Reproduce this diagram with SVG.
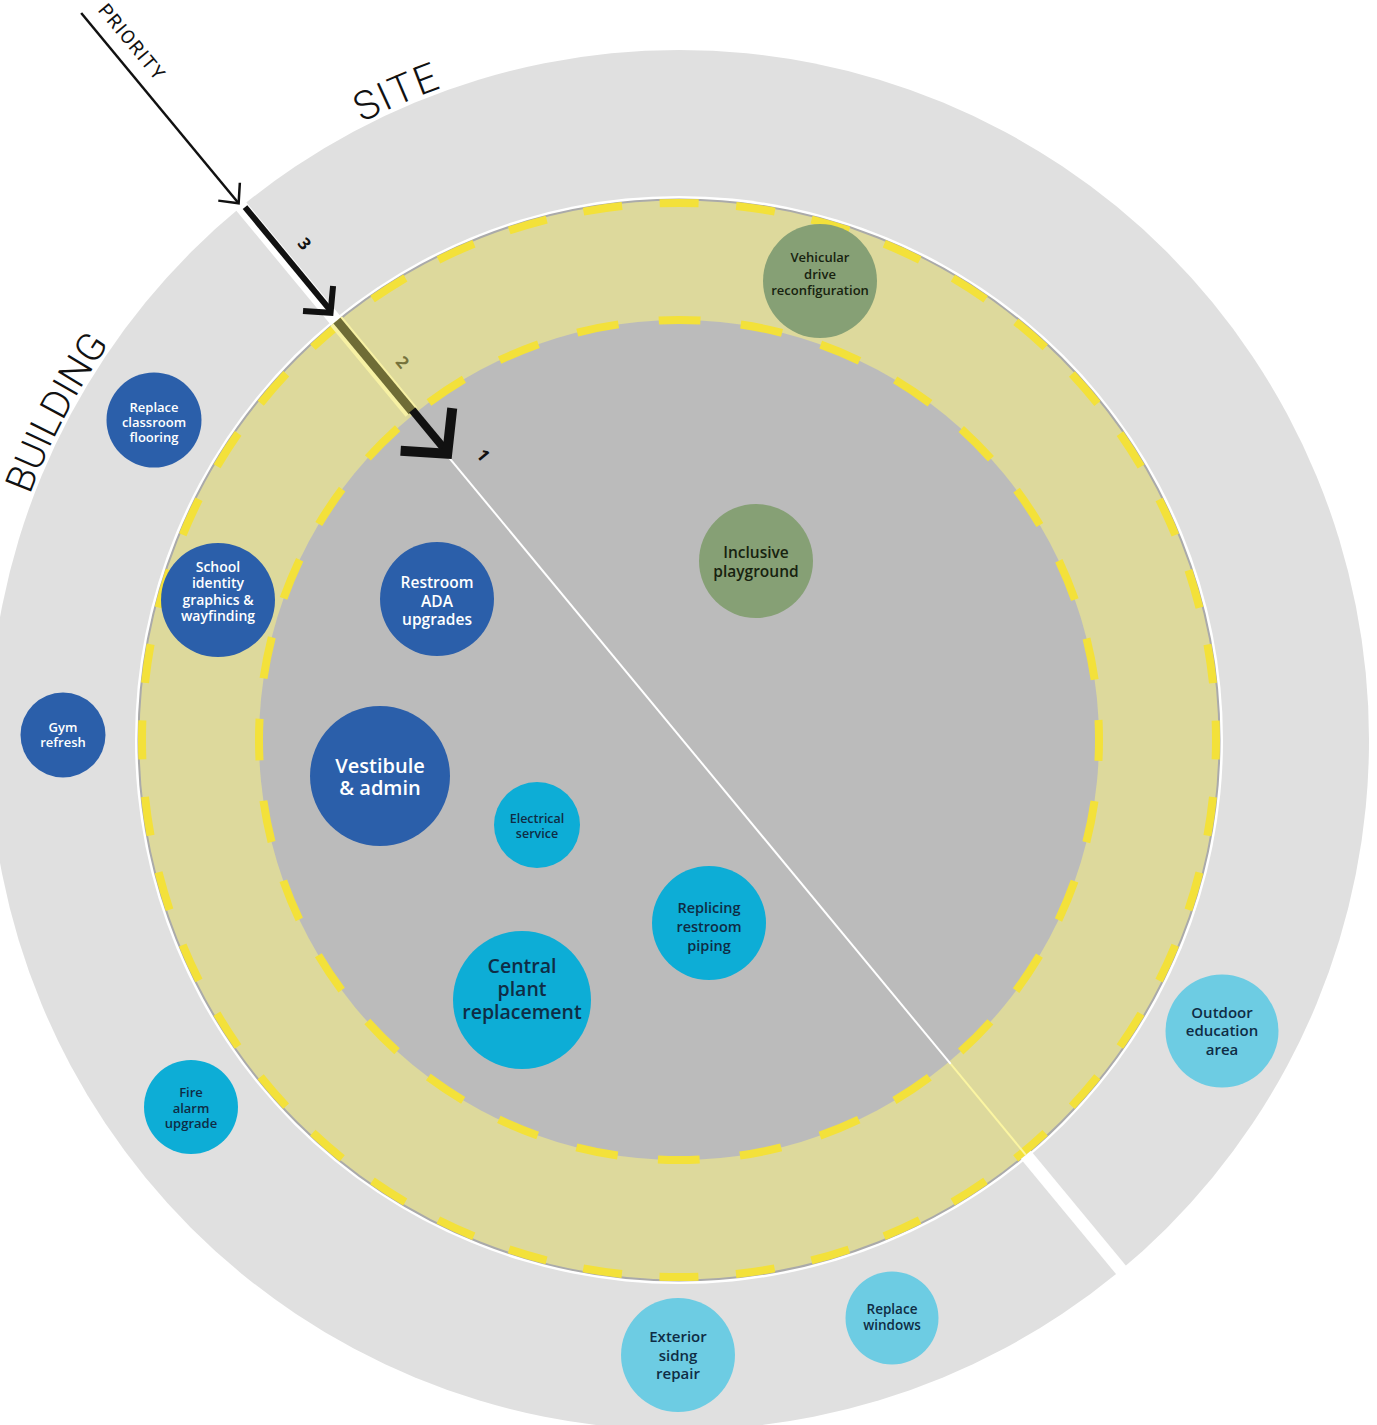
<svg xmlns="http://www.w3.org/2000/svg" width="1377" height="1425" viewBox="0 0 1377 1425">
<style>
.dk{fill:#2b5faa}
.cy{fill:#0dadd6}
.lc{fill:#6dcce3}
.gr{fill:#86a075}
.t{font-family:'Open Sans','Liberation Sans',sans-serif;font-weight:600;text-anchor:middle}
.tw{fill:#ffffff}
.td{fill:#0f2c45}
.tg{fill:#17220f}
.ring{font-family:Roboto,'Liberation Sans',sans-serif;font-weight:300;fill:#111111;text-anchor:middle}
.num{font-family:'Open Sans','Liberation Sans',sans-serif;font-weight:700;font-size:17px;text-anchor:middle}
</style>
<defs>
<path id="arc" d="M -15 740 A 694 694 0 0 1 1373 740"/>
</defs>
<rect x="0" y="0" width="1377" height="1425" fill="#ffffff"/>
<g id="rings">
<circle cx="679" cy="740" r="690" fill="#e0e0e0"/>
<circle cx="679" cy="740" r="544" fill="#ffffff"/>
<circle cx="679" cy="740" r="540.5" fill="#ddd99c" stroke="#aaaaaa" stroke-width="2"/>
<circle cx="679" cy="740" r="420" fill="#bbbbbb"/>
<circle cx="679" cy="740" r="537" fill="none" stroke="#f3e13a" stroke-width="8" stroke-dasharray="39 37.68" stroke-dashoffset="19.5"/>
<circle cx="679" cy="740" r="420" fill="none" stroke="#f3e13a" stroke-width="8" stroke-dasharray="42 40.47" stroke-dashoffset="21"/>
</g>
<g id="ring-labels">
<text class="ring" font-size="39"><textPath href="#arc" startOffset="336">BUILDING</textPath></text>
<text class="ring" font-size="40" letter-spacing="2"><textPath href="#arc" startOffset="805">SITE</textPath></text>
</g>
<g id="connectors" transform="translate(681,738) rotate(50.4)">
<line x1="541" y1="0" x2="702" y2="0" stroke="#ffffff" stroke-width="13"/>
<line x1="423" y1="0" x2="541" y2="0" stroke="#fbf5a2" stroke-width="2"/>
<line x1="-425" y1="0" x2="423" y2="0" stroke="#ffffff" stroke-width="2"/>
<line x1="-702" y1="0" x2="-541" y2="0" stroke="#ffffff" stroke-width="13"/>
<line x1="-541" y1="0" x2="-423" y2="0" stroke="#f7f1a4" stroke-width="15"/>
<line x1="-541" y1="-1" x2="-423" y2="-1" stroke="#6f6c36" stroke-width="9"/>
<line x1="-941" y1="0" x2="-695" y2="0" stroke="#111111" stroke-width="2.5"/>
<polyline points="-709,-14 -694,0 -709,14" fill="none" stroke="#111111" stroke-width="2.5"/>
<line x1="-687" y1="-2.5" x2="-553" y2="-2.5" stroke="#111111" stroke-width="6"/>
<polyline points="-570,-20 -551,-1 -570,19" fill="none" stroke="#111111" stroke-width="6"/>
<line x1="-424" y1="-2" x2="-370" y2="-2" stroke="#111111" stroke-width="8"/>
<polyline points="-400,-34 -368,-1 -400,33" fill="none" stroke="#111111" stroke-width="10"/>
<text x="-886" y="-14" font-family="Roboto,'Liberation Sans',sans-serif" font-weight="400" font-size="19" letter-spacing="1.5" fill="#111111" text-anchor="middle">PRIORITY</text>
<text class="num" x="-621" y="-19" fill="#111111">3</text>
<text class="num" x="-467" y="-19" fill="#76733c">2</text>
<text class="num" x="-344" y="-22" fill="#111111">1</text>
</g>
<g id="node-replace-flooring">
<circle class="dk" cx="154" cy="420" r="47.5"/>
<text class="t tw" font-size="13"><tspan x="154" y="411.7">Replace</tspan><tspan x="154" y="426.7">classroom</tspan><tspan x="154" y="441.7">flooring</tspan></text>
</g>
<g id="node-school-identity">
<circle class="dk" cx="218" cy="600" r="57"/>
<text class="t tw" font-size="14"><tspan x="218" y="572">School</tspan><tspan x="218" y="588">identity</tspan><tspan x="218" y="605">graphics &amp;</tspan><tspan x="218" y="621">wayfinding</tspan></text>
</g>
<g id="node-gym">
<circle class="dk" cx="63" cy="735" r="42.5"/>
<text class="t tw" font-size="13"><tspan x="63" y="731.7">Gym</tspan><tspan x="63" y="746.7">refresh</tspan></text>
</g>
<g id="node-restroom-ada">
<circle class="dk" cx="437" cy="599" r="57"/>
<text class="t tw" font-size="15.5"><tspan x="437" y="587.6">Restroom</tspan><tspan x="437" y="606.6">ADA</tspan><tspan x="437" y="624.6">upgrades</tspan></text>
</g>
<g id="node-vestibule">
<circle class="dk" cx="380" cy="776" r="70"/>
<text class="t tw" font-size="20"><tspan x="380" y="773">Vestibule</tspan><tspan x="380" y="795">&amp; admin</tspan></text>
</g>
<g id="node-electrical">
<circle class="cy" cx="537" cy="825" r="43"/>
<text class="t td" font-size="12.5"><tspan x="537" y="822.5">Electrical</tspan><tspan x="537" y="837.5">service</tspan></text>
</g>
<g id="node-vehicular">
<circle class="gr" cx="820" cy="281" r="57"/>
<text class="t tg" font-size="13"><tspan x="820" y="261.7">Vehicular</tspan><tspan x="820" y="278.7">drive</tspan><tspan x="820" y="294.7">reconfiguration</tspan></text>
</g>
<g id="node-playground">
<circle class="gr" cx="756" cy="561" r="57"/>
<text class="t tg" font-size="15.5"><tspan x="756" y="557.6">Inclusive</tspan><tspan x="756" y="576.6">playground</tspan></text>
</g>
<g id="node-piping">
<circle class="cy" cx="709" cy="923" r="57"/>
<text class="t td" font-size="14.5"><tspan x="709" y="913">Replicing</tspan><tspan x="709" y="932">restroom</tspan><tspan x="709" y="951">piping</tspan></text>
</g>
<g id="node-central-plant">
<circle class="cy" cx="522" cy="1000" r="69"/>
<text class="t td" font-size="19.5"><tspan x="522" y="973">Central</tspan><tspan x="522" y="996">plant</tspan><tspan x="522" y="1019">replacement</tspan></text>
</g>
<g id="node-outdoor">
<circle class="lc" cx="1222" cy="1031" r="56.5"/>
<text class="t td" font-size="15"><tspan x="1222" y="1018.4">Outdoor</tspan><tspan x="1222" y="1036.4">education</tspan><tspan x="1222" y="1055.4">area</tspan></text>
</g>
<g id="node-fire-alarm">
<circle class="cy" cx="191" cy="1107" r="47"/>
<text class="t td" font-size="13"><tspan x="191" y="1096.7">Fire</tspan><tspan x="191" y="1112.7">alarm</tspan><tspan x="191" y="1127.7">upgrade</tspan></text>
</g>
<g id="node-exterior">
<circle class="lc" cx="678" cy="1355" r="57"/>
<text class="t td" font-size="15"><tspan x="678" y="1342.4">Exterior</tspan><tspan x="678" y="1361.4">sidng</tspan><tspan x="678" y="1379.4">repair</tspan></text>
</g>
<g id="node-windows">
<circle class="lc" cx="892" cy="1318" r="46.5"/>
<text class="t td" font-size="13.5"><tspan x="892" y="1314">Replace</tspan><tspan x="892" y="1330">windows</tspan></text>
</g>
</svg>
